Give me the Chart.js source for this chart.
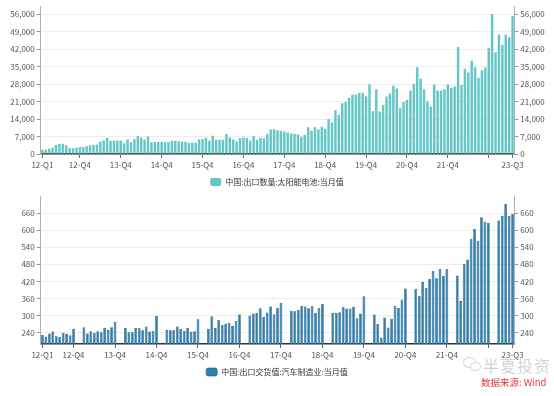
<!DOCTYPE html>
<html><head><meta charset="utf-8">
<script src="https://cdn.jsdelivr.net/npm/chart.js@4/dist/chart.umd.min.js"></script>
<style>
body{margin:0;background:#fff;width:554px;height:396px;overflow:hidden;position:relative;font-family:"Noto Sans CJK SC",sans-serif}
.wrap{position:absolute;left:0;width:554px;height:196px}
#w1{top:0}
#w2{top:190px}
.wm{position:absolute;left:483px;top:353px;font-size:16px;color:#d4d4d4;letter-spacing:1px;white-space:nowrap}
.ic1{position:absolute;left:463px;top:357px;width:11px;height:9px;border:1.5px solid #d6d6d6;border-radius:50%}
.ic2{position:absolute;left:470px;top:362px;width:9px;height:7px;border:1.5px solid #d6d6d6;border-radius:50%;background:#fff}
.src{position:absolute;left:481px;top:375px;font-size:9.5px;color:#e03a3a;white-space:nowrap}
</style></head><body>
<div class="wrap" id="w1"><canvas id="c1" width="554" height="196"></canvas></div>
<div class="wrap" id="w2"><canvas id="c2" width="554" height="196"></canvas></div>
<div class="ic1"></div><div class="ic2"></div>
<div class="wm">半夏投资</div>
<div class="src">数据来源: Wind</div>
<script>
// ---- data ----
const monthsAll = [];
for (let y = 2012; y <= 2023; y++) for (let m = 1; m <= 12; m++) { if (y === 2023 && m > 7) break; monthsAll.push(y + '-' + String(m).padStart(2, '0')); }
const topCategories = monthsAll;            // 2012-01 .. 2023-07
const bottomCategories = monthsAll.slice(2); // 2012-03 .. 2023-07

const solarLabel = '中国:出口数量:太阳能电池:当月值';
const solarValues = [
  1700,1700,2100,2500,3600,4000,4100,3500,2400,2300,2500,2800,
  2800,3100,3500,3700,3800,5000,5400,6400,5300,5300,5400,5300,
  4300,5800,4700,5900,7200,6600,5700,7000,4700,4800,4800,4900,
  4800,4800,5300,5300,5100,5000,5000,4400,4500,4500,5800,5900,
  6500,5300,7300,5700,5700,5700,8000,6600,5800,5000,6400,6600,
  6400,5300,7200,5700,6500,6300,8000,9800,9900,9500,9300,9000,
  8600,8200,8000,7800,6900,7700,10700,9300,10700,9800,10900,10100,
  14000,12600,17500,15600,20300,20800,22500,23700,23700,24400,24400,23100,
  28000,17100,26000,17000,19600,23000,24200,27400,26300,18300,20800,21600,
  25500,28100,34800,30300,26000,21000,19000,27900,25500,25500,26000,27900,
  26500,27100,42900,27700,34200,32700,37400,34800,30600,33600,34700,42600,
  56100,40800,47900,43700,47900,46800,55300
];

const autoLabel = '中国:出口交货值:汽车制造业:当月值';
const autoValues = [
  232,226,237,244,227,225,240,235,231,254,
  null,null,259,237,245,240,245,241,257,249,259,278,
  null,null,257,241,241,256,255,248,262,244,246,299,
  null,null,249,248,248,262,254,247,257,242,245,287,
  null,null,254,298,256,285,267,271,275,263,281,304,
  null,null,300,307,310,326,296,311,332,305,327,345,
  null,null,317,315,320,334,332,326,335,310,327,341,
  null,null,309,309,312,331,325,325,331,291,307,368,
  null,null,304,270,223,293,258,289,335,327,357,395,
  null,null,394,370,418,397,429,457,431,464,440,464,
  null,null,441,351,482,497,570,605,563,646,630,626,
  null,null,635,650,693,650,658
];

const quarterTicks = {
  '2012-12':'12-Q4','2013-12':'13-Q4','2014-12':'14-Q4','2015-12':'15-Q4','2016-12':'16-Q4',
  '2017-12':'17-Q4','2018-12':'18-Q4','2019-12':'19-Q4','2020-12':'20-Q4','2021-12':'21-Q4',
  '2022-12':'','2023-07':'23-Q3'
};
const firstTickLabel = '12-Q1';

const solarYTicks = [0, 7000, 14000, 21000, 28000, 35000, 42000, 49000, 56000];
const autoYTicks = [240, 300, 360, 420, 480, 540, 600, 660];
const solarAxis = {min: 0, max: 59000, ticks: solarYTicks};
const autoAxis = {min: 200, max: 718, ticks: autoYTicks};

// ---- chart builder ----
const tickFont = {family: '"Noto Sans CJK SC", sans-serif', size: 8};
const tickColor = '#555';

function build(id, labels, values, dsLabel, ax, fill, border, bw, barPct) {
  const tickMap = Object.assign({}, quarterTicks);
  tickMap[labels[0]] = firstTickLabel;
  const yScale = (pos) => ({
    type: 'linear', position: pos, min: ax.min, max: ax.max,
    ticks: {font: tickFont, color: tickColor, padding: 2, autoSkip: false,
      callback: v => Number(v).toLocaleString('en-US')},
    grid: {color: pos === 'left' ? '#ededed' : 'rgba(0,0,0,0)', drawOnChartArea: pos === 'left', tickColor: '#999', tickLength: 4},
    border: {color: '#b0b0b0', width: 1},
    afterBuildTicks: s => { s.ticks = ax.ticks.map(v => ({value: v})); },
    afterFit: s => { s.width = pos === 'left' ? 40.7 : 39.7; }
  });
  return new Chart(document.getElementById(id), {
    type: 'bar',
    data: {labels: labels, datasets: [{label: dsLabel, data: values, backgroundColor: fill,
      borderColor: border, borderWidth: bw, barPercentage: barPct, categoryPercentage: 1.0, yAxisID: 'y'}]},
    options: {
      responsive: false, animation: false, devicePixelRatio: 1,
      layout: {padding: {top: 5, bottom: 0, left: 0, right: 0}},
      plugins: {
        tooltip: {enabled: false},
        legend: {position: 'bottom', labels: {boxWidth: 11, boxHeight: 8, padding: 4, color: '#333',
          useBorderRadius: true, borderRadius: 2,
          font: {family: '"Noto Sans CJK SC", sans-serif', size: 8}}}
      },
      scales: {
        x: {
          type: 'category', offset: true,
          grid: {drawOnChartArea: false, offset: false, tickLength: 4, tickColor: '#666'},
          border: {color: '#333', width: 1.5},
          ticks: {autoSkip: false, maxRotation: 0, minRotation: 0, font: tickFont, color: tickColor, padding: 2,
            callback: function (v) { const k = this.getLabelForValue(v); return tickMap[k] !== undefined ? tickMap[k] : ''; }},
          afterBuildTicks: s => { s.ticks = s.ticks.filter(t => tickMap[labels[t.value]] !== undefined); },
          afterFit: s => { s.height = 20; }
        },
        y: yScale('left'),
        y2: yScale('right')
      }
    }
  });
}

build('c1', topCategories, solarValues, solarLabel, solarAxis, '#63c7c5', '#52b5b3', 0, 0.72);
build('c2', bottomCategories, autoValues, autoLabel, autoAxis, '#2b80b4', '#1b4f74', 0.6, 0.8);
</script>
</body></html>
